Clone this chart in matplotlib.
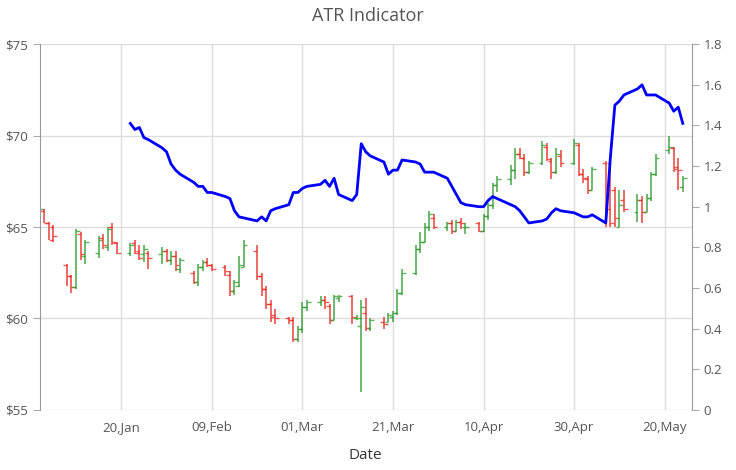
import matplotlib
matplotlib.use("Agg")
import matplotlib.pyplot as plt
import matplotlib.dates as mdates
import pandas as pd
import numpy as np

plt.rcParams['font.family'] = ['Open Sans', 'DejaVu Sans']

# daily OHLC (weekdays from 2018-01-02)
ohlc = [
 (65.8,67.3,65.8,66.0),(65.9,66.0,65.2,65.2),(65.2,65.3,64.3,64.3),(65.0,65.1,64.2,64.5),
 (62.9,63.0,61.8,62.3),(62.3,62.4,61.4,61.7),(61.7,64.9,61.6,64.8),(64.6,64.7,63.2,63.5),(63.4,64.3,63.0,64.2),
 (63.6,64.5,63.3,64.3),(64.4,64.6,63.8,64.0),(63.9,65.0,63.7,64.9),(65.0,65.2,64.0,64.2),(64.1,64.2,63.5,63.6),
 (63.6,64.1,63.4,64.0),(64.1,64.3,63.5,63.6),(63.7,64.0,63.2,63.3),(63.5,64.0,63.1,63.8),(63.6,63.7,62.7,63.3),
 (63.5,63.9,63.0,63.7),(63.7,63.8,63.1,63.2),(63.2,63.7,62.9,63.4),(63.4,63.7,62.6,62.9),(62.7,63.3,62.5,63.2),
 (62.5,62.6,61.9,62.0),(62.0,63.0,61.8,62.8),(62.8,63.2,62.6,63.1),(63.1,63.3,62.8,62.9),(62.9,63.0,62.6,62.7),
 (62.8,62.9,62.3,62.6),(62.4,62.6,61.2,61.5),(61.5,62.1,61.3,62.0),(61.8,63.4,61.7,62.9),(62.8,64.3,62.8,64.0),
 (63.7,64.0,62.1,62.3),(62.3,62.5,61.2,61.6),(61.6,61.8,60.5,60.8),(60.8,61.0,59.8,60.1),(60.2,60.5,59.7,60.0),
 (60.0,60.1,59.7,59.9),(59.9,60.1,58.7,58.9),(58.9,59.6,58.7,59.4),(59.4,60.9,59.2,60.6),(60.6,61.0,60.4,60.9),
 (60.9,61.2,60.7,61.0),(61.0,61.2,60.5,60.9),(60.7,60.8,59.7,59.9),(59.9,61.3,59.9,61.2),(61.1,61.3,60.9,61.2),
 (61.2,61.3,59.7,60.1),(60.0,60.2,59.9,60.0),(59.6,61.0,56.0,60.6),(60.3,61.1,59.3,59.5),(59.5,60.0,59.3,59.9),
 (59.8,60.1,59.4,59.7),(59.8,60.3,59.8,60.2),(60.1,60.4,59.8,60.3),(60.3,61.6,60.2,61.4),(61.4,62.7,61.3,62.5),
 (62.5,64.0,62.4,63.8),(63.8,64.7,63.6,64.2),(64.2,65.2,64.2,65.0),(65.0,65.9,64.8,65.7),(65.5,65.7,64.9,65.0),
 (65.0,65.3,64.8,65.2),(65.2,65.4,64.6,64.8),(64.8,65.4,64.8,65.3),(65.3,65.5,64.9,65.2),(65.0,65.2,64.6,65.0),
 (65.2,65.3,64.7,64.8),(64.8,65.7,64.7,65.6),(65.6,66.3,65.4,66.2),(66.2,67.4,66.0,67.3),(67.3,67.8,66.9,67.6),
 (67.6,68.4,67.3,68.1),(68.1,69.3,67.6,69.0),(69.0,69.3,68.7,68.8),(68.8,69.0,67.8,68.0),(68.0,68.6,67.9,68.5),
 (68.5,69.7,68.4,69.5),(69.4,69.6,68.6,68.7),(68.6,68.8,67.6,68.0),(68.0,69.3,67.9,69.0),(68.9,69.2,68.3,68.5),
 (68.5,69.8,68.4,69.6),(69.5,69.6,67.8,67.9),(67.9,68.2,67.4,67.7),(67.6,67.8,66.8,67.0),(67.0,68.3,67.0,68.2),
 (68.5,68.6,65.0,66.0),(68.5,68.6,65.0,65.2),(67.0,67.2,65.0,65.5),(65.0,67.0,65.0,66.2),(66.5,67.0,65.8,66.0),
 (65.8,66.8,65.3,66.5),(66.5,66.7,65.2,65.8),(65.8,66.8,65.8,66.6),(66.6,68.0,66.4,67.9),(67.9,69.0,67.8,68.8),
 (69.2,70.0,69.0,69.4),(69.3,69.4,68.0,68.2),(68.3,68.8,67.0,68.1),(67.2,67.8,66.9,67.7),
]
opens = [r[0] for r in ohlc]; highs = [r[1] for r in ohlc]
lows = [r[2] for r in ohlc]; closes = [r[3] for r in ohlc]
dates = pd.bdate_range("2018-01-02", periods=len(ohlc))

atr = [1.41,1.38,1.39,1.34,1.33, 1.29,1.27,1.21,1.18,1.16, 1.12,1.10,1.10,1.07,1.07,
       1.05,1.04,0.98,0.95,0.945, 0.93,0.95,0.93,0.98,0.99, 1.01,1.07,1.07,1.09,1.10,
       1.11,1.13,1.10,1.14,1.06, 1.03,1.06,1.31,1.27,1.25, 1.22,1.16,1.18,1.18,1.23,
       1.22,1.21,1.17,1.17,1.17, 1.14,1.10,1.06,1.02,1.01, 1.00,1.00,1.03,1.05,1.04,
       1.01,1.00,0.98,0.95,0.92, 0.93,0.94,0.97,0.99,0.98, 0.97,0.96,0.95,0.95,0.96,
       0.92,1.24,1.50,1.52,1.55, 1.58,1.60,1.55,1.55,1.55, 1.51,1.47,1.49,1.41]
atr_dates = pd.bdate_range("2018-01-22", periods=len(atr))

fig = plt.figure(figsize=(7.36, 4.70), dpi=100)
ax = fig.add_axes([0.054, 0.128, 0.886, 0.778])
ax2 = ax.twinx()

tick = pd.Timedelta(hours=20)
for d, o, h, l, c in zip(dates, opens, highs, lows, closes):
    col = '#2e9a2e' if c >= o else '#e8281e'
    ax.vlines(d, l, h, color=col, lw=1.3, alpha=0.75)
    ax.hlines(o, d - tick, d, color=col, lw=1.0, alpha=0.75)
    ax.hlines(c, d, d + tick, color=col, lw=1.0, alpha=0.75)

ax2.plot(atr_dates, atr, color='#0000ff', lw=2)

ax.set_xlim(pd.Timestamp("2018-01-02"), pd.Timestamp("2018-05-26"))
ax.set_ylim(55, 75)
ax.set_yticks([55, 60, 65, 70, 75])
ax.set_yticklabels(['$55', '$60', '$65', '$70', '$75'])
ax2.set_ylim(0, 1.8)
ax2.set_yticks(np.arange(0, 1.81, 0.2))
ax2.set_yticklabels(['0', '0.2', '0.4', '0.6', '0.8', '1', '1.2', '1.4', '1.6', '1.8'])
xt = pd.date_range("2018-01-20", periods=7, freq="20D")
ax.set_xticks(xt)
ax.set_xticklabels([d.strftime('%d,%b') for d in xt])

ax.grid(True, color='#dddddd', lw=1)
ax.set_axisbelow(True)
for a in (ax, ax2):
    for s in a.spines.values():
        s.set_visible(False)
    a.tick_params(colors='#555555', labelsize=9.5, length=5, color='#aaaaaa')
ax.spines['left'].set_visible(True); ax.spines['left'].set_color('#999999')
ax2.spines['right'].set_visible(True); ax2.spines['right'].set_color('#999999')
ax.tick_params(axis='x', length=0, pad=8)
ax.set_xlabel('Date', fontsize=11, color='#333333', labelpad=10)
fig.suptitle('ATR Indicator', fontsize=13, color='#555555', y=0.985)
fig.savefig('out.png', dpi=100)
